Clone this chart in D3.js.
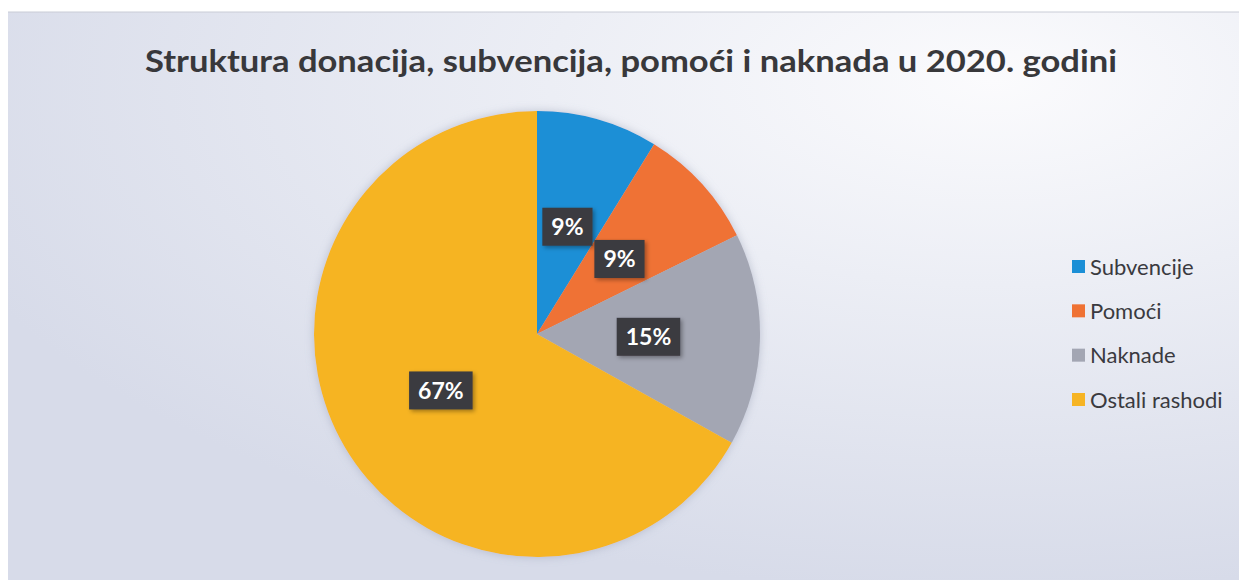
<!DOCTYPE html>
<html>
<head>
<meta charset="utf-8">
<script src="https://cdn.jsdelivr.net/npm/d3@7"></script>
<style>
  html, body { margin: 0; padding: 0; background: #ffffff; }
  svg { display: block; }
</style>
</head>
<body>
<svg id="chart" width="1239" height="580"></svg>
<script>
// data
var categories = ["Subvencije", "Pomoći", "Naknade", "Ostali rashodi"];
var shares = [8.8, 8.9, 15.4, 66.9];
var labels = ["9%", "9%", "15%", "67%"];
var colors = ["#1b8fd6", "#ef7234", "#a3a6b3", "#f6b424"];
var title = "Struktura donacija, subvencija, pomoći i naknada u 2020. godini";

var W = 1239, H = 580;
var cx = 537, cy = 334, R = 223;
var fontFam = "Lato, 'Noto Sans', 'Open Sans', sans-serif";

var svg = d3.select("#chart");
var defs = svg.append("defs");

// background of scanned chart area
var bg = defs.append("radialGradient").attr("id", "bg")
    .attr("cx", "0.8").attr("cy", "0.12").attr("r", "0.9");
bg.append("stop").attr("offset", "0").attr("stop-color", "#fbfbfd");
bg.append("stop").attr("offset", "0.4").attr("stop-color", "#eceef5");
bg.append("stop").attr("offset", "1").attr("stop-color", "#d7dbe9");

var sh = defs.append("filter").attr("id", "shadow")
    .attr("x", "-20%").attr("y", "-20%").attr("width", "140%").attr("height", "140%");
sh.append("feDropShadow").attr("dx", 2).attr("dy", 2).attr("stdDeviation", 2)
    .attr("flood-color", "#000").attr("flood-opacity", 0.35);

var pieShadow = defs.append("filter").attr("id", "pieShadow")
    .attr("x", "-10%").attr("y", "-10%").attr("width", "120%").attr("height", "120%");
pieShadow.append("feDropShadow").attr("dx", 0).attr("dy", 0).attr("stdDeviation", 5)
    .attr("flood-color", "#8890a8").attr("flood-opacity", 0.45);

svg.append("rect").attr("x", 8).attr("y", 12)
    .attr("width", W - 8).attr("height", H - 12)
    .attr("fill", "url(#bg)");
svg.append("line").attr("x1", 8).attr("x2", W).attr("y1", 12).attr("y2", 12)
    .attr("stroke", "#c9ccd6").attr("stroke-width", 1);

// title, squeezed to the scanned width
svg.append("text")
    .attr("x", 631).attr("y", 72)
    .attr("text-anchor", "middle")
    .attr("font-family", fontFam)
    .attr("font-weight", "bold")
    .attr("font-size", 31)
    .attr("textLength", 972)
    .attr("lengthAdjust", "spacingAndGlyphs")
    .attr("fill", "#38383b")
    .text(title);

// pie
var pie = d3.pie().sort(null).value(function(d) { return d; });
var arc = d3.arc().innerRadius(0).outerRadius(R);
var arcs = pie(shares);

var g = svg.append("g").attr("transform", "translate(" + cx + "," + cy + ")");
g.append("g").attr("filter", "url(#pieShadow)")
  .selectAll("path")
  .data(arcs)
  .enter().append("path")
    .attr("d", arc)
    .attr("fill", function(d, i) { return colors[i]; });

// data labels in dark boxes
var lab = g.selectAll("g.lab")
  .data(arcs)
  .enter().append("g")
    .attr("class", "lab")
    .attr("transform", function(d) {
        var c = arc.centroid(d);
        return "translate(" + c[0] + "," + c[1] + ")";
    });

lab.each(function(d, i) {
    var el = d3.select(this);
    var txt = el.append("text")
        .attr("text-anchor", "middle")
        .attr("dy", "0.36em")
        .attr("font-family", fontFam)
        .attr("font-weight", "bold")
        .attr("font-size", 23)
        .attr("fill", "#ffffff")
        .text(labels[i]);
    var bw = txt.node().getComputedTextLength() + 18;
    el.insert("rect", "text")
        .attr("x", -bw / 2).attr("y", -19)
        .attr("width", bw).attr("height", 38)
        .attr("fill", "#3b3a40")
        .attr("filter", "url(#shadow)");
});

// legend
var legY = d3.scalePoint().domain(categories).range([267, 400]);
var leg = svg.append("g").selectAll("g")
  .data(categories)
  .enter().append("g")
    .attr("transform", function(d) { return "translate(1072," + legY(d) + ")"; });
leg.append("rect")
    .attr("x", 0).attr("y", -7)
    .attr("width", 13).attr("height", 13)
    .attr("fill", function(d, i) { return colors[i]; });
leg.append("text")
    .attr("x", 18).attr("dy", "0.35em")
    .attr("font-family", fontFam)
    .attr("font-size", 22)
    .attr("fill", "#3a3a3f")
    .text(function(d) { return d; });
</script>
</body>
</html>
